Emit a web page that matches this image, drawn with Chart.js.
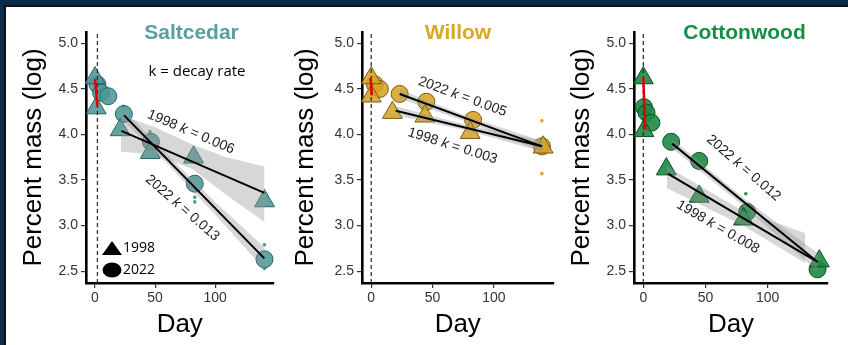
<!DOCTYPE html>
<html><head><meta charset="utf-8">
<script src="https://cdn.jsdelivr.net/npm/chart.js@4.4.1/dist/chart.umd.min.js"></script>
<style>
html,body{margin:0;padding:0;width:848px;height:345px;overflow:hidden;background:#0c2a4a;}
#frame{position:absolute;left:4px;top:5px;width:844px;height:340px;background:#fff;border-left:2px solid #111;border-top:2px solid #111;box-sizing:border-box;}
canvas{position:absolute;}
</style></head><body>
<div id="frame"></div>
<canvas id="c1" style="left:6px;top:7px" width="280" height="338"></canvas>
<canvas id="c2" style="left:286px;top:7px" width="280" height="338"></canvas>
<canvas id="c3" style="left:566px;top:7px" width="282" height="338"></canvas>
<script>
// ---------- shared axes ----------
const dayTicks = [0, 50, 100];
const massTicks = [2.5, 3.0, 3.5, 4.0, 4.5, 5.0];
const dayRange = [-7.5, 148.5];
const massRange = [2.37, 5.125];

// ---------- Saltcedar ----------
const saltTriDays = [0, 1, 21, 46, 82, 141];
const saltTriMass = [4.62, 4.29, 4.05, 3.80, 3.75, 3.27];
const saltCirDays = [2, 5, 11, 24, 46.5, 83, 141];
const saltCirMass = [4.55, 4.46, 4.42, 4.225, 3.92, 3.46, 2.63];
const saltDotDays = [23.5, 45.7, 83, 83, 141, 141];
const saltDotMass = [4.31, 4.03, 3.31, 3.26, 2.79, 2.53];
const saltFit98Days = [21.9, 140.9];
const saltFit98Mass = [4.04, 3.36];
const saltFit22Days = [24.2, 140.9];
const saltFit22Mass = [4.21, 2.64];
const saltBand98Days = [21.5, 50, 81, 109, 141];
const saltBand98Hi = [4.21, 4.08, 3.89, 3.75, 3.65];
const saltBand98Lo = [3.81, 3.78, 3.62, 3.34, 3.04];
const saltBand22Days = [24, 60, 100, 141];
const saltBand22Hi = [4.27, 3.78, 3.26, 2.76];
const saltBand22Lo = [4.15, 3.68, 3.12, 2.52];
const saltLeachDays = [0, 2];
const saltLeachMass = [4.61, 4.31];
const saltStartDay = 2;
const saltK = ['0.006', '0.013'];

// ---------- Willow ----------
const willTriDays = [0, 0, 17.3, 43.8, 80.6, 140.1];
const willTriMass = [4.62, 4.42, 4.24, 4.20, 4.02, 3.86];
const willCirDays = [3, 7, 23.2, 44.9, 83, 139.1];
const willCirMass = [4.55, 4.50, 4.445, 4.36, 4.16, 3.87];
const willDotDays = [139, 139];
const willDotMass = [4.15, 3.57];
const willFit98Days = [20.0, 139.1];
const willFit98Mass = [4.26, 3.87];
const willFit22Days = [23.2, 139.1];
const willFit22Mass = [4.445, 3.87];
const willBand98Days = [20, 80, 140];
const willBand98Hi = [4.31, 4.095, 3.93];
const willBand98Lo = [4.21, 4.035, 3.81];
const willBand22Days = [23, 80, 139];
const willBand22Hi = [4.495, 4.19, 3.93];
const willBand22Lo = [4.395, 4.13, 3.81];
const willLeachDays = [-0.5, 0.5];
const willLeachMass = [4.62, 4.43];
const willStartDay = 0;
const willK = ['0.003', '0.005'];

// ---------- Cottonwood ----------
const cotTriDays = [0, 0.5, 18.5, 44.9, 80.6, 141.5];
const cotTriMass = [4.62, 4.04, 3.62, 3.32, 3.07, 2.61];
const cotCirDays = [0.5, 2.6, 6.5, 22.4, 44.9, 83.5, 140.1];
const cotCirMass = [4.30, 4.24, 4.13, 3.92, 3.71, 3.15, 2.52];
const cotDotDays = [82.4];
const cotDotMass = [3.35];
const cotFit98Days = [19.7, 137.5];
const cotFit98Mass = [3.57, 2.62];
const cotFit22Days = [23.2, 140.1];
const cotFit22Mass = [3.90, 2.60];
const cotBand98Days = [19, 80, 130];
const cotBand98Hi = [3.65, 3.16, 2.92];
const cotBand98Lo = [3.41, 3.00, 2.59];
const cotBand22Days = [23, 80, 140];
const cotBand22Hi = [3.95, 3.31, 2.70];
const cotBand22Lo = [3.85, 3.22, 2.50];
const cotLeachDays = [0, 1.5];
const cotLeachMass = [4.62, 4.05];
const cotStartDay = 0;
const cotK = ['0.008', '0.012'];

const legendYears = ['1998', '2022'];

function pts(xs, ys) { return xs.map((x, i) => ({ x: x, y: ys[i] })); }

function drawLabel(ctx, cx, cy, angleDeg, year, k) {
  const normal = '14px "Liberation Sans", Arial, sans-serif';
  const ital = 'italic 14px "Liberation Sans", Arial, sans-serif';
  const p1 = year + ' ', p2 = 'k', p3 = ' = ' + k;
  ctx.save();
  ctx.translate(cx, cy);
  ctx.rotate(angleDeg * Math.PI / 180);
  ctx.font = normal; const w1 = ctx.measureText(p1).width; const w3 = ctx.measureText(p3).width;
  ctx.font = ital; const w2 = ctx.measureText(p2).width;
  let x0 = -(w1 + w2 + w3) / 2;
  ctx.fillStyle = '#1e1e1e'; ctx.textBaseline = 'middle'; ctx.textAlign = 'left';
  ctx.font = normal; ctx.fillText(p1, x0, 0);
  ctx.font = ital; ctx.fillText(p2, x0 + w1, 0);
  ctx.font = normal; ctx.fillText(p3, x0 + w1 + w2, 0);
  ctx.restore();
}

const annotPlugin = {
  id: 'annot',
  afterDraw(chart, args, o) {
    const ctx = chart.ctx, xs = chart.scales.x, ys = chart.scales.y;
    ctx.save();
    ctx.font = 'bold 21px "Liberation Sans", Arial, sans-serif';
    ctx.fillStyle = o.titleColor; ctx.textAlign = 'center'; ctx.textBaseline = 'middle';
    ctx.fillText(o.title, o.titleX, o.titleY);
    o.labels.forEach(l => drawLabel(ctx, xs.getPixelForValue(l.x), ys.getPixelForValue(l.y), l.angle, l.year, l.k));
    if (o.legend) {
      ctx.fillStyle = '#000';
      ctx.font = '14px "Open Sans", sans-serif';
      ctx.textAlign = 'left'; ctx.textBaseline = 'middle';
      // legend triangle
      ctx.beginPath();
      ctx.moveTo(106, 234); ctx.lineTo(116, 248); ctx.lineTo(96, 248); ctx.closePath(); ctx.fill();
      ctx.fillText(legendYears[0], 117, 241);
      ctx.beginPath(); ctx.ellipse(106, 263, 9.5, 7.5, 0, 0, Math.PI * 2); ctx.fill();
      ctx.fillText(legendYears[1], 117, 263);
      ctx.font = '15px "Open Sans", sans-serif';
      ctx.textAlign = 'center';
      ctx.fillText('k = decay rate', 191, 65);
    }
    ctx.restore();
  }
};

function makePanel(p) {
  const band = 'rgba(150,150,150,0.38)';
  const datasets = [
    { data: pts(p.dots[0], p.dots[1]), showLine: false, pointStyle: 'circle', pointRadius: 1.8, pointBackgroundColor: p.dotColor, pointBorderWidth: 0, order: 5, clip: false },
    { data: pts(p.cir[0], p.cir[1]), showLine: false, pointStyle: 'circle', pointRadius: 8.5, pointBackgroundColor: p.fill, pointBorderColor: p.stroke, pointBorderWidth: 1, order: 4, clip: false },
    { data: pts(p.tri[0], p.tri[1]), showLine: false, pointStyle: 'triangle', pointRadius: 11.5, pointBackgroundColor: p.fill, pointBorderColor: p.stroke, pointBorderWidth: 1, order: 3, clip: false },
    { data: pts(p.b98[0], p.b98[1]), fill: '+1', backgroundColor: band, borderWidth: 0, pointRadius: 0, order: 2 },
    { data: pts(p.b98[0], p.b98[2]), fill: false, borderWidth: 0, pointRadius: 0, order: 2 },
    { data: pts(p.b22[0], p.b22[1]), fill: '+1', backgroundColor: band, borderWidth: 0, pointRadius: 0, order: 2 },
    { data: pts(p.b22[0], p.b22[2]), fill: false, borderWidth: 0, pointRadius: 0, order: 2 },
    { data: pts(p.f98[0], p.f98[1]), borderColor: '#000', borderWidth: 2, pointRadius: 0, fill: false, order: 1 },
    { data: pts(p.f22[0], p.f22[1]), borderColor: '#000', borderWidth: 2, pointRadius: 0, fill: false, order: 1 },
    { data: [{ x: p.start, y: massRange[0] }, { x: p.start, y: massRange[1] }], borderColor: '#333', borderWidth: 1.3, borderDash: [4, 3], pointRadius: 0, fill: false, order: 0.5 },
    { data: pts(p.leach[0], p.leach[1]), borderColor: '#e00000', borderWidth: 2.5, pointRadius: 0, fill: false, order: 0 }
  ];
  const tickFont = { family: '"Liberation Sans", Arial, sans-serif', size: 14 };
  const titleFont = { family: '"Liberation Sans", Arial, sans-serif', size: 26 };
  new Chart(document.getElementById(p.id), {
    type: 'line',
    data: { datasets: datasets },
    options: {
      responsive: false, animation: false,
      events: [],
      layout: { padding: { left: 0, right: p.padRight, top: 25, bottom: 0 } },
      elements: { line: { tension: 0 } },
      plugins: {
        legend: { display: false }, tooltip: { enabled: false },
        annot: { title: p.title, titleColor: p.titleColor, titleX: p.titleX, titleY: 26, labels: p.labels, legend: p.legend }
      },
      scales: {
        x: {
          type: 'linear', min: dayRange[0], max: dayRange[1],
          afterBuildTicks: s => { s.ticks = dayTicks.map(v => ({ value: v })); },
          afterFit: s => { s.height = 62; },
          ticks: { font: tickFont, color: '#333', padding: 2, maxRotation: 0, callback: v => String(v) },
          grid: { drawOnChartArea: false, drawTicks: true, tickLength: 5, color: '#333', lineWidth: 1.2 },
          border: { display: true, color: '#000', width: 2.6 },
          title: { display: true, text: 'Day', font: titleFont, color: '#000', padding: { top: 0, bottom: 5 } }
        },
        y: {
          type: 'linear', min: massRange[0], max: massRange[1],
          afterBuildTicks: s => { s.ticks = massTicks.map(v => ({ value: v })); },
          afterFit: s => { s.width = p.yWidth; },
          ticks: { font: tickFont, color: '#333', padding: 3, callback: v => Number(v).toFixed(1) },
          grid: { drawOnChartArea: false, drawTicks: true, tickLength: 5, color: '#333', lineWidth: 1.2 },
          border: { display: true, color: '#000', width: 2.6 },
          title: { display: true, text: 'Percent mass (log)', font: titleFont, color: '#000', padding: { top: p.yTitlePad, bottom: 0 } }
        }
      }
    },
    plugins: [annotPlugin]
  });
}

makePanel({
  id: 'c1', title: 'Saltcedar', titleColor: '#5a9fa0', titleX: 185.5,
  fill: 'rgba(78,150,150,0.88)', stroke: '#2c6464', dotColor: '#4a9a9a',
  tri: [saltTriDays, saltTriMass], cir: [saltCirDays, saltCirMass], dots: [saltDotDays, saltDotMass],
  f98: [saltFit98Days, saltFit98Mass], f22: [saltFit22Days, saltFit22Mass],
  b98: [saltBand98Days, saltBand98Hi, saltBand98Lo], b22: [saltBand22Days, saltBand22Hi, saltBand22Lo],
  leach: [saltLeachDays, saltLeachMass], start: saltStartDay,
  labels: [{ year: '1998', k: saltK[0], x: 79.8, y: 4.027, angle: 23 }, { year: '2022', k: saltK[1], x: 72.7, y: 3.193, angle: 41 }],
  legend: true, yWidth: 80, padRight: 3, yTitlePad: 12
});
makePanel({
  id: 'c2', title: 'Willow', titleColor: '#dba526', titleX: 172,
  fill: 'rgba(214,163,38,0.88)', stroke: '#7a5a10', dotColor: '#e0a020',
  tri: [willTriDays, willTriMass], cir: [willCirDays, willCirMass], dots: [willDotDays, willDotMass],
  f98: [willFit98Days, willFit98Mass], f22: [willFit22Days, willFit22Mass],
  b98: [willBand98Days, willBand98Hi, willBand98Lo], b22: [willBand22Days, willBand22Hi, willBand22Lo],
  leach: [willLeachDays, willLeachMass], start: willStartDay,
  labels: [{ year: '1998', k: willK[0], x: 66.3, y: 3.874, angle: 17.5 }, { year: '2022', k: willK[1], x: 74.3, y: 4.415, angle: 20 }],
  legend: false, yWidth: 76, padRight: 10, yTitlePad: 4
});
makePanel({
  id: 'c3', title: 'Cottonwood', titleColor: '#158f47', titleX: 178.5,
  fill: 'rgba(28,138,68,0.9)', stroke: '#0b4d25', dotColor: '#1a9a4a',
  tri: [cotTriDays, cotTriMass], cir: [cotCirDays, cotCirMass], dots: [cotDotDays, cotDotMass],
  f98: [cotFit98Days, cotFit98Mass], f22: [cotFit22Days, cotFit22Mass],
  b98: [cotBand98Days, cotBand98Hi, cotBand98Lo], b22: [cotBand22Days, cotBand22Hi, cotBand22Lo],
  leach: [cotLeachDays, cotLeachMass], start: cotStartDay,
  labels: [{ year: '1998', k: cotK[0], x: 60, y: 2.984, angle: 30 }, { year: '2022', k: cotK[1], x: 80.6, y: 3.632, angle: 41 }],
  legend: false, yWidth: 68, padRight: 20, yTitlePad: 0
});
</script>
</body></html>
